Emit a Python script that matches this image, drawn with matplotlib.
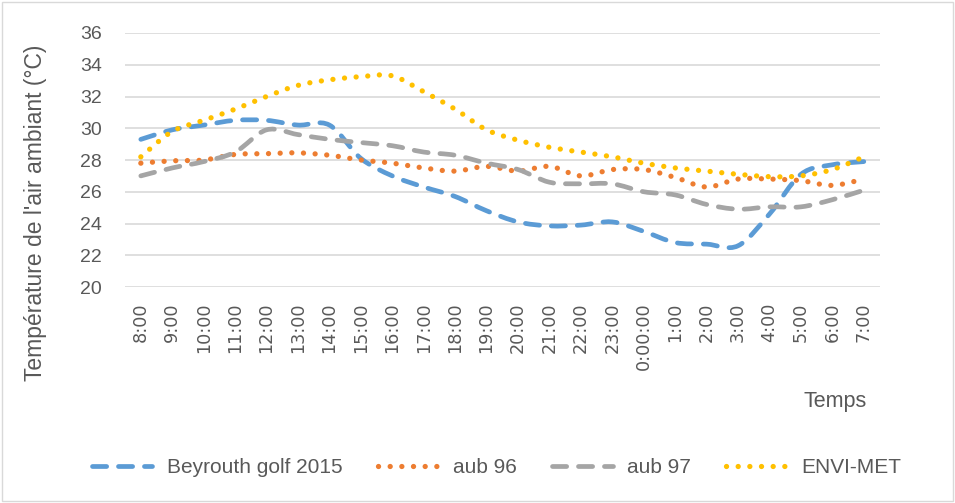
import matplotlib
matplotlib.use("Agg")
import matplotlib.pyplot as plt
import numpy as np
from matplotlib.path import Path
from matplotlib.patches import PathPatch, Rectangle
from matplotlib.lines import Line2D

# données
hours = ["8:00", "9:00", "10:00", "11:00", "12:00", "13:00", "14:00", "15:00",
         "16:00", "17:00", "18:00", "19:00", "20:00", "21:00", "22:00", "23:00",
         "0:00:00", "1:00", "2:00", "3:00", "4:00", "5:00", "6:00", "7:00"]
beyrouth = [29.3, 29.9, 30.2, 30.5, 30.5, 30.2, 30.2, 28.1, 27.0, 26.3, 25.7, 24.8,
            24.1, 23.85, 23.9, 24.1, 23.5, 22.8, 22.7, 22.6, 24.6, 27.1, 27.7, 27.9]
aub96 = [27.8, 27.95, 28.0, 28.35, 28.4, 28.45, 28.3, 28.0, 27.8, 27.5, 27.3, 27.6,
         27.3, 27.6, 27.0, 27.4, 27.4, 26.9, 26.3, 26.8, 26.8, 26.7, 26.4, 26.8]
aub97 = [27.0, 27.5, 27.9, 28.5, 29.9, 29.6, 29.3, 29.1, 28.9, 28.5, 28.3, 27.8,
         27.4, 26.6, 26.5, 26.5, 26.0, 25.8, 25.2, 24.9, 25.05, 25.05, 25.5, 26.1]
envimet = [28.2, 29.8, 30.5, 31.2, 32.0, 32.7, 33.05, 33.25, 33.3, 32.3, 31.2, 29.9,
           29.25, 28.8, 28.5, 28.2, 27.8, 27.5, 27.3, 27.1, 26.95, 27.0, 27.4, 28.2]
yticks = [20, 22, 24, 26, 28, 30, 32, 34, 36]

FONT = ["Liberation Sans", "DejaVu Sans"]
TXT = "#595959"


def smooth_path(x, y):
    """Courbe lissée façon Excel : Bézier cubiques passant par chaque point."""
    pts = np.column_stack([x, y]).astype(float)
    n = len(pts)
    verts = [pts[0]]
    codes = [Path.MOVETO]
    for i in range(n - 1):
        p0 = pts[max(i - 1, 0)]
        p1 = pts[i]
        p2 = pts[i + 1]
        p3 = pts[min(i + 2, n - 1)]
        c1 = p1 + (p2 - p0) / 6.0
        c2 = p2 - (p3 - p1) / 6.0
        verts += [c1, c2, p2]
        codes += [Path.CURVE4] * 3
    return Path(verts, codes)


# (nom, valeurs, couleur, style, épaisseur)
series = [
    ("Beyrouth golf 2015", beyrouth, "#5B9BD5", (0, (3.0, 2.5)), 3.4),
    ("aub 96", aub96, "#ED7D31", (0, (0.01, 2.2)), 3.8),
    ("aub 97", aub97, "#A5A5A5", (0, (3.0, 2.5)), 3.4),
    ("ENVI-MET", envimet, "#FFC000", (0, (0.01, 2.2)), 3.8),
]

fig = plt.figure(figsize=(9.55, 5.03), dpi=100)
ax = fig.add_axes([0.131, 0.4294, 0.790, 0.505])

x = np.arange(len(hours))
handles = []
for name, vals, color, ls, lw in series:
    patch = PathPatch(smooth_path(x, vals), fill=False, edgecolor=color,
                      linewidth=lw, linestyle=ls, capstyle="round", zorder=3)
    ax.add_patch(patch)
    handles.append(Line2D([], [], color=color, linewidth=lw, linestyle=ls,
                          dash_capstyle="round", solid_capstyle="round"))

ax.set_xlim(-0.5, len(hours) - 0.5)
ax.set_ylim(20, 36)
ax.set_yticks(yticks)
ax.set_yticklabels([str(v) for v in yticks], fontsize=14, color=TXT, family=FONT)
ax.set_xticks(x)
ax.set_xticklabels(hours, rotation=90, fontsize=12.7, color=TXT, family="DejaVu Sans",
                   va="top", ha="center")
ax.tick_params(axis="both", length=0)
ax.tick_params(axis="y", pad=16.5)
ax.tick_params(axis="x", pad=11)
ax.grid(axis="y", color="#D9D9D9", linewidth=1.2, zorder=0)
for s in ax.spines.values():
    s.set_visible(False)

fig.text(0.037, 0.577, "Température de l'air ambiant (°C)", rotation=90,
         ha="center", va="center", fontsize=16.5, color=TXT, family=FONT)
fig.text(0.874, 0.202, "Temps", ha="center", va="center", fontsize=15.5,
         color=TXT, family=FONT)

fig.legend(handles, [s[0] for s in series], loc="center", ncol=4,
           bbox_to_anchor=(0.52, 0.07), frameon=False, handlelength=2.9,
           columnspacing=1.7, handletextpad=0.7,
           prop={"family": FONT, "size": 15}, labelcolor=TXT)

fig.add_artist(Rectangle((0.002, 0.004), 0.996, 0.992, transform=fig.transFigure,
                         fill=False, edgecolor="#D9D9D9", linewidth=1))

fig.savefig("out.png", dpi=100)
